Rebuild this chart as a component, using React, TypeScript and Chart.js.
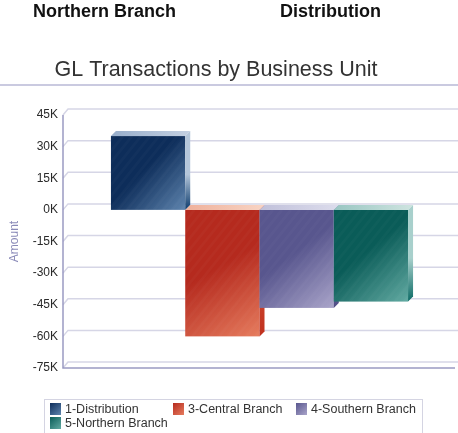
import React, { useEffect, useRef } from "react";
import { Chart, registerables } from "chart.js";

Chart.register(...registerables);

const headerLabels = ["Northern Branch", "Distribution"];
const chartTitle = "GL Transactions by Business Unit";
const axisTitle = "Amount";
const categories = ["GL"];
const seriesNames = ["1-Distribution", "3-Central Branch", "4-Southern Branch", "5-Northern Branch"];
const seriesValues = [35000, -60000, -46500, -43500];
const yMin = -75000;
const yMax = 45000;
const yStep = 15000;

// colour sets: front gradient start/end, top face start/end, side top/bottom
const palettes = [
  { f1: "#0d2d5a", f2: "#5e84ae", t1: "#98aecb", t2: "#c3d0e2", s1: "#b4c6da", s2: "#0b3a6c" },
  { f1: "#b52a1e", f2: "#e67c5e", t1: "#efb09a", t2: "#f8d4c4", s1: "#d04a30", s2: "#c0301e" },
  { f1: "#58568e", f2: "#aaa5ca", t1: "#c0c0da", t2: "#dcdcec", s1: "#8884b4", s2: "#4e4c84" },
  { f1: "#0a5c58", f2: "#62aaa2", t1: "#98c6c2", t2: "#cfe4e0", s1: "#a8d0cc", s2: "#0a6a64" },
];

const FONT = "'Liberation Sans', Arial, sans-serif";
const D = 5;

const threeD = {
  id: "threeD",
  beforeDatasetsDraw(chart: any) {
    const { ctx, chartArea } = chart;
    const ys = chart.scales.y;
    const { left, right } = chartArea;
    ctx.save();
    ctx.strokeStyle = "#d6d6e6";
    ctx.lineWidth = 1.5;
    ys.ticks.forEach((t: any) => {
      const y = ys.getPixelForValue(t.value);
      ctx.beginPath();
      ctx.moveTo(left, y);
      ctx.lineTo(left + D, y - D - 1);
      ctx.lineTo(right + 2, y - D - 1);
      ctx.stroke();
    });
    ctx.strokeStyle = "#9a9ac2";
    ctx.lineWidth = 1.5;
    const yb = ys.getPixelForValue(yMin);
    const yt = ys.getPixelForValue(yMax);
    ctx.beginPath();
    ctx.moveTo(left, yt);
    ctx.lineTo(left, yb);
    ctx.lineTo(right - 1, yb);
    ctx.stroke();
    ctx.restore();
  },
  afterDatasetsDraw(chart: any) {
    const { ctx } = chart;
    ctx.save();
    chart.data.datasets.forEach((_ds: any, i: number) => {
      const meta = chart.getDatasetMeta(i);
      const p = palettes[i % palettes.length];
      meta.data.forEach((el: any) => {
        const props = el.getProps(["x", "y", "base", "width"], true);
        const l = props.x - props.width / 2;
        const r = props.x + props.width / 2;
        const top = Math.min(props.y, props.base);
        const bot = Math.max(props.y, props.base);
        const g = ctx.createLinearGradient(l, top, r, bot);
        g.addColorStop(0, p.f1);
        g.addColorStop(0.45, p.f1);
        g.addColorStop(1, p.f2);
        ctx.fillStyle = g;
        ctx.fillRect(l, top, r - l, bot - top);
        ctx.save();
        ctx.beginPath();
        ctx.rect(l, top, r - l, bot - top);
        ctx.clip();
        ctx.strokeStyle = "rgba(255,255,255,0.025)";
        ctx.lineWidth = 3;
        for (let k = -200; k < 300; k += 9) {
          ctx.beginPath();
          ctx.moveTo(l + k, bot);
          ctx.lineTo(l + k + (bot - top) * 0.8, top);
          ctx.stroke();
        }
        ctx.restore();
        const gt = ctx.createLinearGradient(l, 0, r + D, 0);
        gt.addColorStop(0, p.t1);
        gt.addColorStop(1, p.t2);
        ctx.fillStyle = gt;
        ctx.beginPath();
        ctx.moveTo(l, top);
        ctx.lineTo(l + D, top - D);
        ctx.lineTo(r + D, top - D);
        ctx.lineTo(r, top);
        ctx.closePath();
        ctx.fill();
        const gs = ctx.createLinearGradient(0, top - D, 0, bot);
        gs.addColorStop(0, p.s1);
        gs.addColorStop(0.55, p.s1);
        gs.addColorStop(1, p.s2);
        ctx.fillStyle = gs;
        ctx.beginPath();
        ctx.moveTo(r, top);
        ctx.lineTo(r + D, top - D);
        ctx.lineTo(r + D, bot - D);
        ctx.lineTo(r, bot);
        ctx.closePath();
        ctx.fill();
      });
    });
    ctx.restore();
  },
  afterDraw(chart: any) {
    const { ctx } = chart;
    ctx.save();
    ctx.fillStyle = "#111";
    ctx.font = `bold 18px ${FONT}`;
    ctx.textBaseline = "middle";
    ctx.textAlign = "left";
    ctx.fillText(headerLabels[0], 33, 12);
    ctx.fillText(headerLabels[1], 280, 12);
    ctx.fillStyle = "#333";
    ctx.font = `21.5px ${FONT}`;
    ctx.textAlign = "center";
    ctx.fillText(chartTitle, 216, 70);
    ctx.strokeStyle = "#cacae0";
    ctx.lineWidth = 2;
    ctx.beginPath();
    ctx.moveTo(0, 85);
    ctx.lineTo(458, 85);
    ctx.stroke();
    ctx.strokeStyle = "#d4d4e2";
    ctx.lineWidth = 1;
    ctx.strokeRect(44.5, 399.5, 378, 40);
    ctx.font = `12.5px ${FONT}`;
    ctx.textAlign = "left";
    ctx.textBaseline = "middle";
    const colW = 123;
    seriesNames.forEach((name, i) => {
      const col = i % 3;
      const row = Math.floor(i / 3);
      const x = 50 + col * colW;
      const y = 409 + row * 14;
      const p = palettes[i % palettes.length];
      const g = ctx.createLinearGradient(x, y - 6, x + 11, y + 6);
      g.addColorStop(0, p.f1);
      g.addColorStop(1, p.f2);
      ctx.fillStyle = g;
      ctx.fillRect(x, y - 6, 11, 12);
      ctx.fillStyle = "#333";
      ctx.fillText(name, x + 15, y + 0.5);
    });
    ctx.restore();
  },
};

export default function App() {
  const ref = useRef<HTMLCanvasElement>(null);
  useEffect(() => {
    document.body.style.margin = "0";
    const chart = new Chart(ref.current!, {
      type: "bar",
      data: {
        labels: categories,
        datasets: seriesNames.map((name, i) => ({
          label: name,
          data: [seriesValues[i]],
          backgroundColor: "rgba(0,0,0,0)",
          borderWidth: 0,
        })),
      },
      options: {
        animation: false,
        responsive: true,
        maintainAspectRatio: false,
        layout: { padding: { top: 115, bottom: 65, left: 0, right: 2 } },
        plugins: { legend: { display: false }, title: { display: false }, tooltip: { enabled: false } },
        datasets: { bar: { categoryPercentage: 0.756, barPercentage: 1 } },
        scales: {
          x: { display: false },
          y: {
            min: yMin,
            max: yMax,
            afterFit: (s: any) => {
              s.width = 63;
            },
            ticks: {
              stepSize: yStep,
              padding: 5,
              color: "#2a2a2a",
              font: { family: FONT, size: 12 },
              callback: (v: any) => `${Number(v) / 1000}K`,
            },
            grid: { display: false, drawTicks: false },
            border: { display: false },
            title: {
              display: true,
              text: axisTitle,
              color: "#8a8ab8",
              font: { family: FONT, size: 12 },
              padding: { top: 7, bottom: 0 },
            },
          },
        },
      },
      plugins: [threeD],
    });
    return () => chart.destroy();
  }, []);
  return (
    <div style={{ position: "absolute", left: 0, top: 0, width: 458, height: 433, background: "#fff" }}>
      <canvas ref={ref} />
    </div>
  );
}
